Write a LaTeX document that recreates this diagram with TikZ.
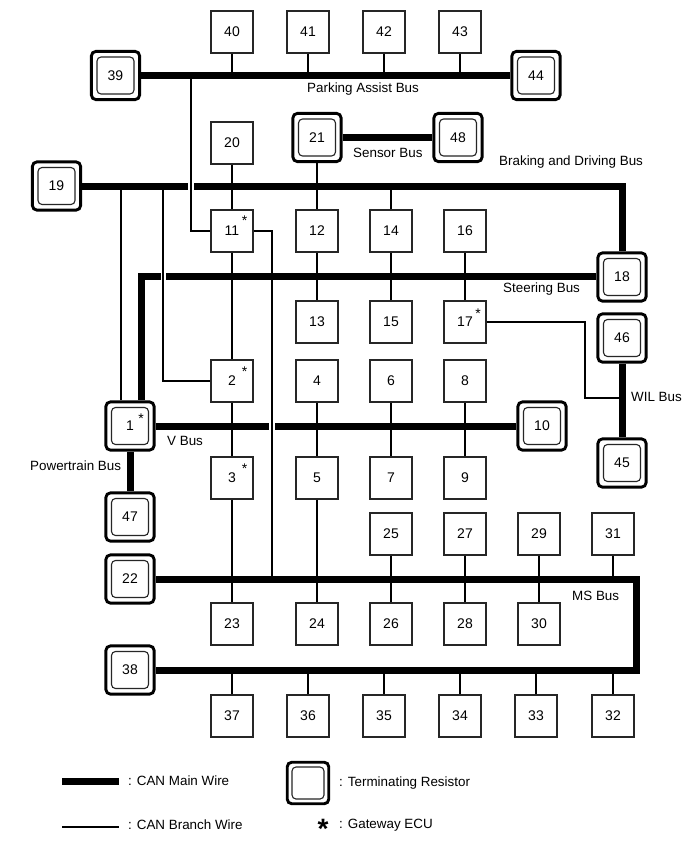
\documentclass[tikz,border=0pt]{standalone}
\usepackage{fontspec}
\setmainfont{Liberation Sans}
\tikzset{
  ecu/.style={draw=black!85,line width=1.1pt,fill=white,minimum size=42pt,inner sep=0pt,font=\fontsize{14}{14}\selectfont},
  termo/.style={draw=black,line width=2.9pt,fill=white,rounded corners=4.5pt,minimum size=48.2pt,inner sep=0pt},
  termi/.style={draw=black!85,line width=1.1pt,fill=white,rounded corners=4pt,minimum size=37pt,inner sep=0pt,font=\fontsize{14}{14}\selectfont},
  mainwire/.style={line width=7pt,black},
  branchwire/.style={line width=2.5pt,black},
  gapwire/.style={line width=7.6pt,white},
  busname/.style={anchor=west,inner sep=0pt,font=\fontsize{13.4}{13.4}\selectfont},
  gwstar/.style={inner sep=0pt,font=\fontsize{14}{14}\selectfont}
}
% plain ECU: \ecubox{number}{x}{y}
\newcommand{\ecubox}[3]{\node[ecu] (n#1) at (#2,#3) {#1};}
% ECU carrying a terminating resistor: \trmbox{number}{x}{y}
\newcommand{\trmbox}[3]{\node[termo] (n#1) at (#2,#3) {};\node[termi] at (n#1.center) {#1};}
\begin{document}
\begin{tikzpicture}[x=1pt,y=-1pt]
\useasboundingbox (0,0) rectangle (689,853);

% Parking assist group
\foreach \n/\x in {40/232,41/308,42/384,43/460} {\ecubox{\n}{\x}{32}}
\trmbox{39}{115.5}{75.5}
\trmbox{44}{536}{75.5}
% Second row
\ecubox{20}{232}{143}
\trmbox{21}{317}{137.5}
\trmbox{48}{458}{137.5}
\trmbox{19}{56.5}{186}
\foreach \n/\x in {11/232,12/317,14/391,16/465} {\ecubox{\n}{\x}{231}}
\trmbox{18}{622}{277}
\foreach \n/\x in {13/317,15/391,17/465} {\ecubox{\n}{\x}{322}}
\trmbox{46}{622}{338}
\trmbox{45}{622}{463}
\foreach \n/\x in {2/232,4/317,6/391,8/465} {\ecubox{\n}{\x}{381}}
\trmbox{1}{130}{426}
\trmbox{10}{542}{426}
\foreach \n/\x in {3/232,5/317,7/391,9/465} {\ecubox{\n}{\x}{478}}
\trmbox{47}{130}{517}
\trmbox{22}{130}{579}
\foreach \n/\x in {25/391,27/465,29/539,31/613} {\ecubox{\n}{\x}{534}}
\foreach \n/\x in {23/232,24/317,26/391,28/465,30/539} {\ecubox{\n}{\x}{624}}
\trmbox{38}{130}{670}
\foreach \n/\x in {37/232,36/308,35/384,34/460,33/536,32/613} {\ecubox{\n}{\x}{716}}

% Bus corners and tap points
\coordinate (bdcorner) at (622,186);
\coordinate (stcorner) at (141,276);
\coordinate (mscornera) at (636,579);
\coordinate (mscornerb) at (636,670);
\coordinate (pkTap) at (191,75.5);
\coordinate (bdTapA) at (121,186);
\coordinate (bdTapB) at (163,186);
\coordinate (msTap) at (272,579);
\coordinate (wilTap) at (622,398);
\coordinate (wilBend) at (585,398);
\coordinate (gwBend) at (585,322);

% CAN main wires
\draw[mainwire] (n39) -- (n44);
\draw[mainwire] (n21) -- (n48);
\draw[mainwire] (n19.east) -- (bdcorner) -- (n18.north -| bdcorner);
\draw[mainwire] (n18.west |- stcorner) -- (stcorner) -- (n1.north -| stcorner);
\draw[mainwire] (n1) -- (n10);
\draw[mainwire] (n1) -- (n47);
\draw[mainwire] (n46) -- (n45);
\draw[mainwire] (n22) -- (mscornera) -- (mscornerb) -- (n38);

% Openings in the main wires where a branch wire passes without joining
\draw[gapwire] (187.7,186) -- (194.2,186);
\draw[gapwire] (160.5,276) -- (166,276);
\draw[gapwire] (268.8,426) -- (275.2,426);

% CAN branch wires
\foreach \n in {40,41,42,43} {\draw[branchwire] (n\n.south) -- (n\n.south |- n39);}
\draw[branchwire] (pkTap) -- (pkTap |- n11) -- (n11.west);
\draw[branchwire] (n20) -- (n11);
\draw[branchwire] (n11) -- (n2);
\draw[branchwire] (n2) -- (n3);
\draw[branchwire] (n3) -- (n23);
\draw[branchwire] (n21) -- (n12);
\draw[branchwire] (n12) -- (n13);
\draw[branchwire] (n14.north) -- (n14.north |- bdcorner);
\draw[branchwire] (n14) -- (n15);
\draw[branchwire] (n16) -- (n17);
\draw[branchwire] (n4) -- (n5);
\draw[branchwire] (n5) -- (n24);
\draw[branchwire] (n6) -- (n7);
\draw[branchwire] (n8) -- (n9);
\draw[branchwire] (bdTapA) -- (bdTapA |- n1.north);
\draw[branchwire] (bdTapB) -- (bdTapB |- n2) -- (n2.west);
\draw[branchwire] (n11.east) -- (msTap |- n11) -- (msTap);
\draw[branchwire] (n17.east) -- (gwBend) -- (wilBend) -- (wilTap);
\foreach \a/\b in {25/26,27/28,29/30} {\draw[branchwire] (n\a) -- (n\b);}
\draw[branchwire] (n31.south) -- (n31.south |- n22);
\foreach \n in {37,36,35,34,33,32} {\draw[branchwire] (n\n.north) -- (n\n.north |- n38);}

% Gateway markers
\node[gwstar] (s11) at (244.5,221) {*};
\node[gwstar] (s2) at (244.5,372) {*};
\node[gwstar] (s3) at (244.5,469) {*};
\node[gwstar] (s1) at (141,419) {*};
\node[gwstar] (s17) at (478,314) {*};

% Bus names
\node[busname] (lpk) at (307,89) {Parking Assist Bus};
\node[busname] (lse) at (353,153) {Sensor Bus};
\node[busname] (lbd) at (499,162) {Braking and Driving Bus};
\node[busname] (lst) at (503,289) {Steering Bus};
\node[busname] (lwi) at (631,397) {WIL Bus};
\node[busname] (lvb) at (167,441) {V Bus};
\node[busname] (lpt) at (30,466) {Powertrain Bus};
\node[busname] (lms) at (572,596) {MS Bus};

% Key
\coordinate (kma) at (62,781);
\coordinate (kmb) at (119,781);
\coordinate (kba) at (62,827);
\coordinate (kbb) at (119,827);
\draw[line width=7pt] (kma) -- (kmb);
\draw[line width=2.5pt] (kba) -- (kbb);
\node[busname] (kmt) at (128,781) {: CAN Main Wire};
\node[busname] (kbt) at (128,825) {: CAN Branch Wire};
\node[termo,minimum size=41.5pt] (kt) at (308,783) {};
\node[termi,minimum size=32pt] (kti) at (kt.center) {};
\node[busname] (ktt) at (339,783) {: Terminating Resistor};
\node[inner sep=0pt,font=\bfseries\fontsize{28}{28}\selectfont] (ks) at (323,829) {*};
\node[busname] (kst) at (339,825) {: Gateway ECU};
\end{tikzpicture}
\end{document}
